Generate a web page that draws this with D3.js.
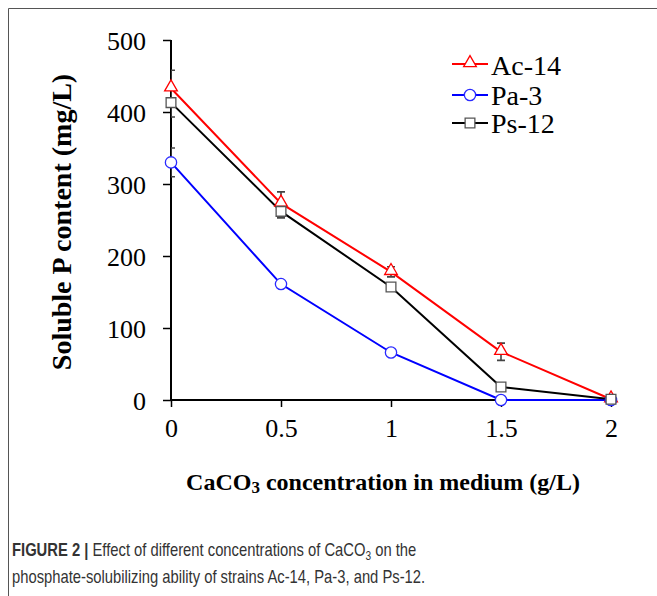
<!DOCTYPE html>
<html>
<head>
<meta charset="utf-8">
<script src="https://d3js.org/d3.v7.min.js"></script>
<style>
  body { margin:0; background:#fff; }
  svg { display:block; }
  .tick text { font-family:"Liberation Serif","Times New Roman",serif; font-size:26px; fill:#000; }
</style>
</head>
<body>
<script>
var concentrations = [0, 0.5, 1, 1.5, 2];
var seriesNames = ["Ac-14", "Pa-3", "Ps-12"];
var ac14 = [433, 273, 178, 67, 1];
var pa3 = [330, 161, 66, 0, 0];
var ps12 = [413, 262, 157, 18, 1];
var ac14Err = [25, 16, 7, 12, 0];
var pa3Err = [20, 3, 3, 0, 0];
var ps12Err = [20, 9, 4, 3, 0];
var yTicks = [0, 100, 200, 300, 400, 500];
var xTicks = [0, 0.5, 1, 1.5, 2];

var width = 657, height = 596;
var svg = d3.select("body").append("svg")
    .attr("width", width)
    .attr("height", height);

// figure frame (top + left only)
svg.append("path")
    .attr("d", "M8.5,596V8.5H657")
    .attr("fill", "none")
    .attr("stroke", "#555")
    .attr("stroke-width", 1);

var x = d3.scaleLinear().domain([0, 2]).range([171, 611]);
var y = d3.scaleLinear().domain([0, 500]).range([400, 40]);

svg.append("defs").append("clipPath").attr("id", "plot")
  .append("rect").attr("x", 171).attr("y", 40).attr("width", 460).attr("height", 360);

var series = [
  {name: seriesNames[0], values: ac14, err: ac14Err, color: "#ff0000", marker: "triangle", mstroke: "#ff0000"},
  {name: seriesNames[1], values: pa3, err: pa3Err, color: "#0000ff", marker: "circle", mstroke: "#2a2aff"},
  {name: seriesNames[2], values: ps12, err: ps12Err, color: "#000000", marker: "square", mstroke: "#555"}
];

// axes
var yAxis = svg.append("g")
    .attr("transform", "translate(171,0)")
    .call(d3.axisLeft(y).tickValues(yTicks).tickSize(8).tickPadding(17).tickFormat(d3.format("d")));
var xAxis = svg.append("g")
    .attr("transform", "translate(0,400)")
    .call(d3.axisBottom(x).tickValues(xTicks).tickSize(7).tickPadding(12).tickFormat(function(d){ return d; }));
[yAxis, xAxis].forEach(function(a){
  a.select(".domain").attr("stroke", "#000").attr("stroke-width", 2);
  a.selectAll(".tick line").attr("stroke", "#000").attr("stroke-width", 1.5);
});
yAxis.select(".domain").attr("d", "M0,40V401");
xAxis.select(".domain").attr("d", "M170,0H611");
yAxis.selectAll(".tick text").attr("dy", "0.35em");

// error bars (clipped to plot area)
var errG = svg.append("g").attr("clip-path", "url(#plot)");
series.forEach(function(s){
  s.values.forEach(function(v, i){
    var e = s.err[i];
    if (!e) return;
    var cx = x(concentrations[i]);
    errG.append("path")
      .attr("d", "M" + cx + "," + y(v - e) + "V" + y(v + e) +
                 "M" + (cx - 4) + "," + y(v + e) + "H" + (cx + 4) +
                 "M" + (cx - 4) + "," + y(v - e) + "H" + (cx + 4))
      .attr("fill", "none")
      .attr("stroke", "#444")
      .attr("stroke-width", 1.6);
  });
});

var line = d3.line()
    .x(function(d, i){ return x(concentrations[i]); })
    .y(function(d){ return y(d); });

var symbols = {triangle: d3.symbolTriangle, circle: d3.symbolCircle, square: d3.symbolSquare};
var symSize = {triangle: 70, circle: 100, square: 95};

function drawMarker(g, s, cx, cy){
  var tx = s.marker === "triangle" ? cy - 1 : cy;
  g.append("path")
    .attr("d", d3.symbol().type(symbols[s.marker]).size(symSize[s.marker])())
    .attr("transform", "translate(" + cx + "," + tx + ")")
    .attr("fill", "#fff")
    .attr("stroke", s.mstroke)
    .attr("stroke-width", 1.3);
}

series.forEach(function(s){
  svg.append("path")
    .datum(s.values)
    .attr("d", line)
    .attr("fill", "none")
    .attr("stroke", s.color)
    .attr("stroke-width", 2);
});
series.forEach(function(s){
  var g = svg.append("g");
  s.values.forEach(function(v, i){ drawMarker(g, s, x(concentrations[i]), y(v)); });
});

// legend
var legendY = [64, 95, 123];
var legendBase = [75, 105, 133];
series.forEach(function(s, i){
  var g = svg.append("g");
  g.append("line")
    .attr("x1", 452).attr("x2", 488)
    .attr("y1", legendY[i]).attr("y2", legendY[i])
    .attr("stroke", s.color).attr("stroke-width", 2);
  drawMarker(g, s, 470, legendY[i]);
  g.append("text")
    .attr("x", 491).attr("y", legendBase[i])
    .attr("font-family", "Liberation Serif, Times New Roman, serif")
    .attr("font-size", 28)
    .text(s.name);
});

// axis titles
svg.append("text")
    .attr("transform", "translate(71,222) rotate(-90)")
    .attr("text-anchor", "middle")
    .attr("font-family", "Liberation Serif, Times New Roman, serif")
    .attr("font-weight", "bold")
    .attr("font-size", 28)
    .text("Soluble P content (mg/L)");

var xt = svg.append("text")
    .attr("x", 383).attr("y", 490)
    .attr("text-anchor", "middle")
    .attr("font-family", "Liberation Serif, Times New Roman, serif")
    .attr("font-weight", "bold")
    .attr("font-size", 24);
xt.append("tspan").text("CaCO");
xt.append("tspan").attr("font-size", 17).attr("dy", 3).text("3");
xt.append("tspan").attr("dy", -3).text(" concentration in medium (g/L)");

// caption (condensed look via horizontal scale)
var capG = svg.append("g")
    .attr("transform", "translate(12,0) scale(0.845,1)")
    .attr("font-family", "Liberation Sans, Arial, sans-serif")
    .attr("font-size", 17.5)
    .attr("fill", "#333");
var cap1 = capG.append("text").attr("x", 0).attr("y", 556);
cap1.append("tspan").attr("font-weight", "bold").text("FIGURE 2 | ");
cap1.append("tspan").text("Effect of different concentrations of CaCO");
cap1.append("tspan").attr("font-size", 12).attr("dy", 4).text("3");
cap1.append("tspan").attr("dy", -4).text(" on the");

capG.append("text").attr("x", 0).attr("y", 583)
    .text("phosphate-solubilizing ability of strains Ac-14, Pa-3, and Ps-12.");
</script>
</body>
</html>
